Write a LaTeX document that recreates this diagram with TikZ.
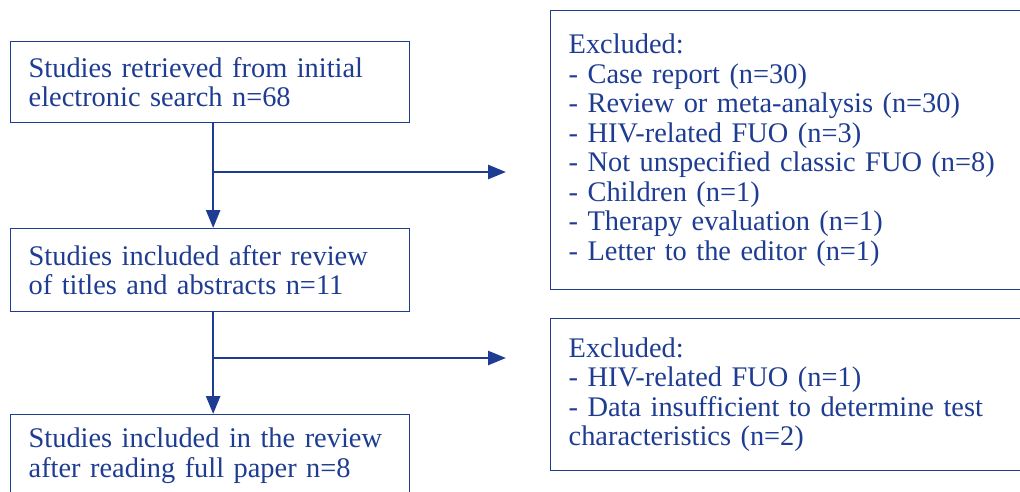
\documentclass[tikz,border=0pt]{standalone}
\usepackage{fontspec}
\setmainfont{Liberation Serif}
\usetikzlibrary{arrows.meta}
\definecolor{fblue}{RGB}{30,60,145}
\begin{document}
\begin{tikzpicture}[x=1pt,y=-1pt,
  font=\fontsize{28.4}{29.5}\selectfont,
  box/.style={draw=fblue, line width=1.3pt, text=fblue, align=left, anchor=north west, inner xsep=18pt, inner ysep=0pt},
  conn/.style={draw=fblue, line width=2.6pt, -{Triangle[length=18pt,width=14pt]}, fill=fblue}]
\clip (0,0) rectangle (1020,491);
\node[box, minimum width=399pt, minimum height=81pt, text width=363pt] (s1) at (10,41)
  {Studies retrieved from initial\\electronic search n=68};
\node[box, minimum width=399pt, minimum height=83pt, text width=363pt] (s2) at (10,228)
  {Studies included after review\\of titles and abstracts n=11};
\node[box, minimum width=399pt, minimum height=82pt, text width=363pt] (s3) at (10,414)
  {Studies included in the review\\after reading full paper n=8};
\node[box, minimum width=490pt, minimum height=279pt, text width=454pt] (e1) at (550,10)
  {Excluded:\\- Case report (n=30)\\- Review or meta-analysis (n=30)\\- HIV-related FUO (n=3)\\- Not unspecified classic FUO (n=8)\\- Children (n=1)\\- Therapy evaluation (n=1)\\- Letter to the editor (n=1)};
\node[box, minimum width=490pt, minimum height=152pt, text width=454pt] (e2) at (550,318)
  {Excluded:\\- HIV-related FUO (n=1)\\- Data insufficient to determine test\\characteristics (n=2)};
\coordinate (v1) at ([xshift=3pt]s1.south);
\coordinate (v2) at ([xshift=3pt]s2.south);
\coordinate (t1) at (506,172);
\coordinate (t2) at (506,358);
\draw[conn] (v1) -- ([xshift=3pt]s2.north);
\draw[conn] (v2) -- ([xshift=3pt]s3.north);
\draw[conn] (v1 |- t1) -- (t1);
\draw[conn] (v2 |- t2) -- (t2);
\end{tikzpicture}
\end{document}
